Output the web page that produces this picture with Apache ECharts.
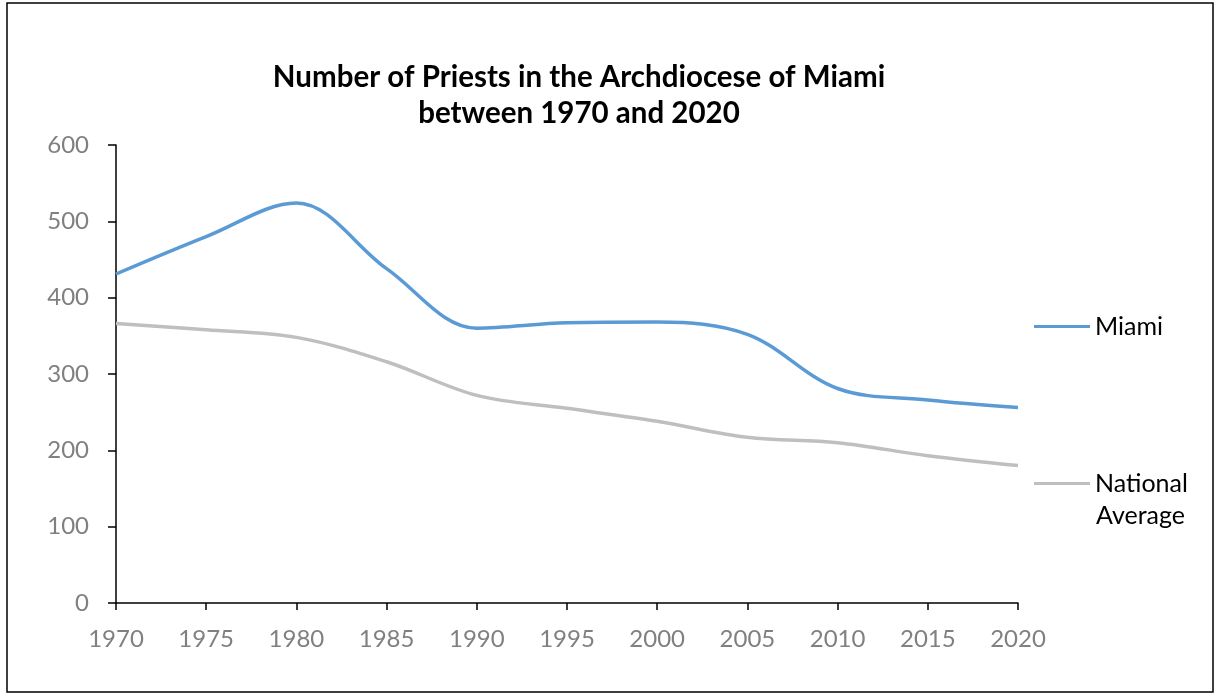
<!DOCTYPE html>
<html>
<head>
<meta charset="utf-8">
<script src="https://cdn.jsdelivr.net/npm/echarts@6/dist/echarts.min.js"></script>
<style>
html,body{margin:0;padding:0;background:#fff;}
#chart{width:1220px;height:696px;}
</style>
</head>
<body>
<div id="chart"></div>
<script>
var years = ['1970','1975','1980','1985','1990','1995','2000','2005','2010','2015','2020'];
var miami = [431, 480, 524, 438, 360, 367, 368, 352, 281, 266, 256];
var national = [366, 358, 348, 316, 272, 255, 238, 217, 210, 193, 180];
var yTicks = {min: 0, max: 600, interval: 100};
var FONT = 'Lato, "Open Sans", sans-serif';

var chart = echarts.init(document.getElementById('chart'));
chart.setOption({
  animation: false,
  backgroundColor: '#ffffff',
  graphic: [{
    type: 'rect',
    shape: {x: 7, y: 3, width: 1206, height: 689},
    style: {fill: 'none', stroke: '#000', lineWidth: 1.5},
    silent: true
  }, {
    type: 'text',
    left: 1096, top: 503,
    style: {text: 'Average', fontFamily: FONT, fontSize: 25, fill: '#000'},
    silent: true
  }],
  title: {
    text: 'Number of Priests in the Archdiocese of Miami\nbetween 1970 and 2020',
    left: 574,
    textAlign: 'center',
    top: 54,
    textStyle: {fontFamily: FONT, fontSize: 29.5, fontWeight: 'bold', color: '#000', lineHeight: 36}
  },
  legend: [{
    data: ['Miami'],
    left: 1029, top: 309,
    icon: 'rect', itemWidth: 56, itemHeight: 3,
    textStyle: {fontFamily: FONT, fontSize: 25, color: '#000'}
  }, {
    data: ['National Average'],
    left: 1029, top: 466,
    icon: 'rect', itemWidth: 56, itemHeight: 3,
    formatter: function(){ return 'National'; },
    textStyle: {fontFamily: FONT, fontSize: 25, color: '#000'}
  }],
  grid: {left: 116, right: 202, top: 145, bottom: 93},
  xAxis: {
    type: 'category',
    data: years,
    boundaryGap: false,
    axisLine: {lineStyle: {color: '#000', width: 1.5}},
    axisTick: {show: true, length: 7, inside: false, lineStyle: {color: '#000', width: 1.5}},
    axisLabel: {fontFamily: FONT, fontSize: 24, color: '#808080', margin: 24}
  },
  yAxis: {
    type: 'value',
    min: yTicks.min, max: yTicks.max, interval: yTicks.interval,
    axisLine: {show: true, lineStyle: {color: '#000', width: 1.5}},
    axisTick: {show: true, length: 8, lineStyle: {color: '#000', width: 1.5}},
    splitLine: {show: false},
    axisLabel: {fontFamily: FONT, fontSize: 24, color: '#808080', margin: 27}
  },
  series: [{
    name: 'Miami',
    type: 'line',
    data: miami,
    smooth: 0.35,
    symbol: 'none',
    lineStyle: {color: '#5b9bd5', width: 3.5},
    itemStyle: {color: '#5b9bd5'}
  }, {
    name: 'National Average',
    type: 'line',
    data: national,
    smooth: 0.35,
    symbol: 'none',
    lineStyle: {color: '#bfbfbf', width: 3.5},
    itemStyle: {color: '#bfbfbf'}
  }]
});
</script>
</body>
</html>
